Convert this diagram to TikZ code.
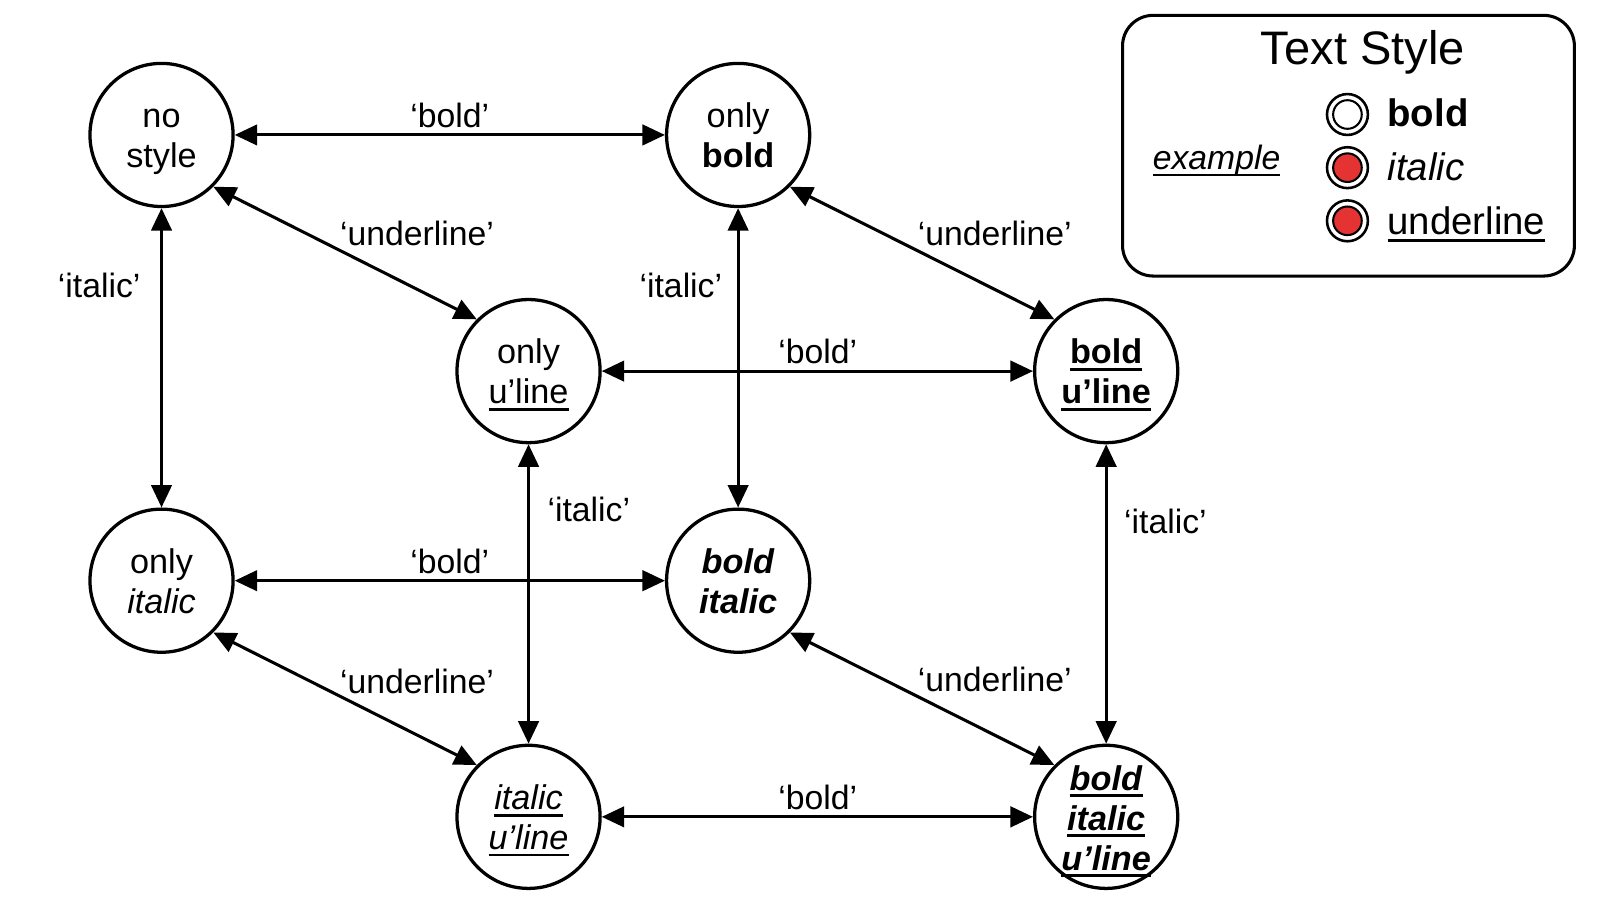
\documentclass[tikz,border=0pt]{standalone}
\usepackage{fontspec}
\setmainfont{Liberation Sans}
\usetikzlibrary{arrows.meta}
\definecolor{legred}{RGB}{229,50,50}
\newcommand\myul[1]{\setbox0\hbox{#1}\rlap{\rule[-0.2em]{\wd0}{0.08em}}\box0}
\newcommand\myulb[1]{\setbox0\hbox{#1}\rlap{\rule[-0.21em]{\wd0}{0.1em}}\box0}
\begin{document}
\begin{tikzpicture}[x=1pt,y=-1pt,
  state/.style={circle,draw,line width=3.2pt,minimum size=140pt,inner sep=0pt,align=center,
    font=\fontsize{33.5}{39}\selectfont,text height=66pt,text depth=2pt},
  three/.style={text height=106pt,text depth=2pt},
  link/.style={{Triangle[length=22pt,width=20pt]}-{Triangle[length=22pt,width=20pt]},line width=3pt},
  lab/.style={font=\fontsize{33}{39}\selectfont,anchor=base,inner sep=0pt},
  legtext/.style={font=\fontsize{37.5}{40}\selectfont,anchor=base west,inner sep=0pt},
  ring/.style={circle,draw,line width=2.5pt,minimum size=40pt,inner sep=0pt},
  dot/.style={circle,draw,line width=2pt,minimum size=28pt,inner sep=0pt}]
\useasboundingbox (0,0) rectangle (1567,878.4);
% states
\node[state] (ns) at (158,132) {no\\style};
\node[state] (ob) at (722,132) {only\\\textbf{bold}};
\node[state] (ou) at (517,363) {only\\\myul{u’line}};
\node[state] (bu) at (1082,363) {\myulb{\textbf{bold}}\\\myulb{\textbf{u’line}}};
\node[state] (oi) at (158,568) {only\\\textit{italic}};
\node[state] (bi) at (722,568) {\textbf{\textit{bold}}\\\textbf{\textit{italic}}};
\node[state] (iu) at (517,799) {\myul{\textit{italic}}\\\myul{\textit{u’line}}};
\node[state,three] (biu) at (1082,799) {\myulb{\textbf{\textit{bold}}}\\\myulb{\textbf{\textit{italic}}}\\\myulb{\textbf{\textit{u’line}}}};
% links
\draw[link] (ns) -- (ob);
\draw[link] (ns.-45) -- (ou.135);
\draw[link] (ns) -- (oi);
\draw[link] (ob.-45) -- (bu.135);
\draw[link] (ob) -- (bi);
\draw[link] (ou) -- (bu);
\draw[link] (ou) -- (iu);
\draw[link] (bu) -- (biu);
\draw[link] (oi) -- (bi);
\draw[link] (oi.-45) -- (iu.135);
\draw[link] (bi.-45) -- (biu.135);
\draw[link] (iu) -- (biu);
% labels
\node[lab] (l1) at (440,125) {‘bold’};
\node[lab] (l2) at (408,240) {‘underline’};
\node[lab] (l3) at (97,291) {‘italic’};
\node[lab] (l4) at (666,291) {‘italic’};
\node[lab] (l5) at (973,240) {‘underline’};
\node[lab] (l6) at (800,356) {‘bold’};
\node[lab] (l7) at (576,510) {‘italic’};
\node[lab] (l8) at (1140,522) {‘italic’};
\node[lab] (l9) at (440,561) {‘bold’};
\node[lab] (l10) at (408,678) {‘underline’};
\node[lab] (l11) at (973,676) {‘underline’};
\node[lab] (l12) at (800,792) {‘bold’};
% legend
\node[draw,line width=3pt,rounded corners=30pt,minimum width=442pt,minimum height=255pt] (legend) at (1319,142.5) {};
\node[font=\fontsize{46}{50}\selectfont,anchor=base,inner sep=0pt] (title) at (1333,63) {Text Style};
\node[font=\fontsize{33}{39}\selectfont\itshape,anchor=base,inner sep=0pt] (ex) at (1190,166) {\myul{example}};
\node[ring] (r1) at (1318,112) {};
\node[dot] (d1) at (r1) {};
\node[ring] (r2) at (1318,164) {};
\node[dot,fill=legred] (d2) at (r2) {};
\node[ring] (r3) at (1318,216) {};
\node[dot,fill=legred] (d3) at (r3) {};
\node[legtext,font=\fontsize{37.5}{40}\selectfont\bfseries] (t1) at (1357,124) {bold};
\node[legtext,font=\fontsize{37.5}{40}\selectfont\itshape] (t2) at (1357,177) {italic};
\node[legtext] (t3) at (1357,229) {\myul{underline}};
\end{tikzpicture}
\end{document}
